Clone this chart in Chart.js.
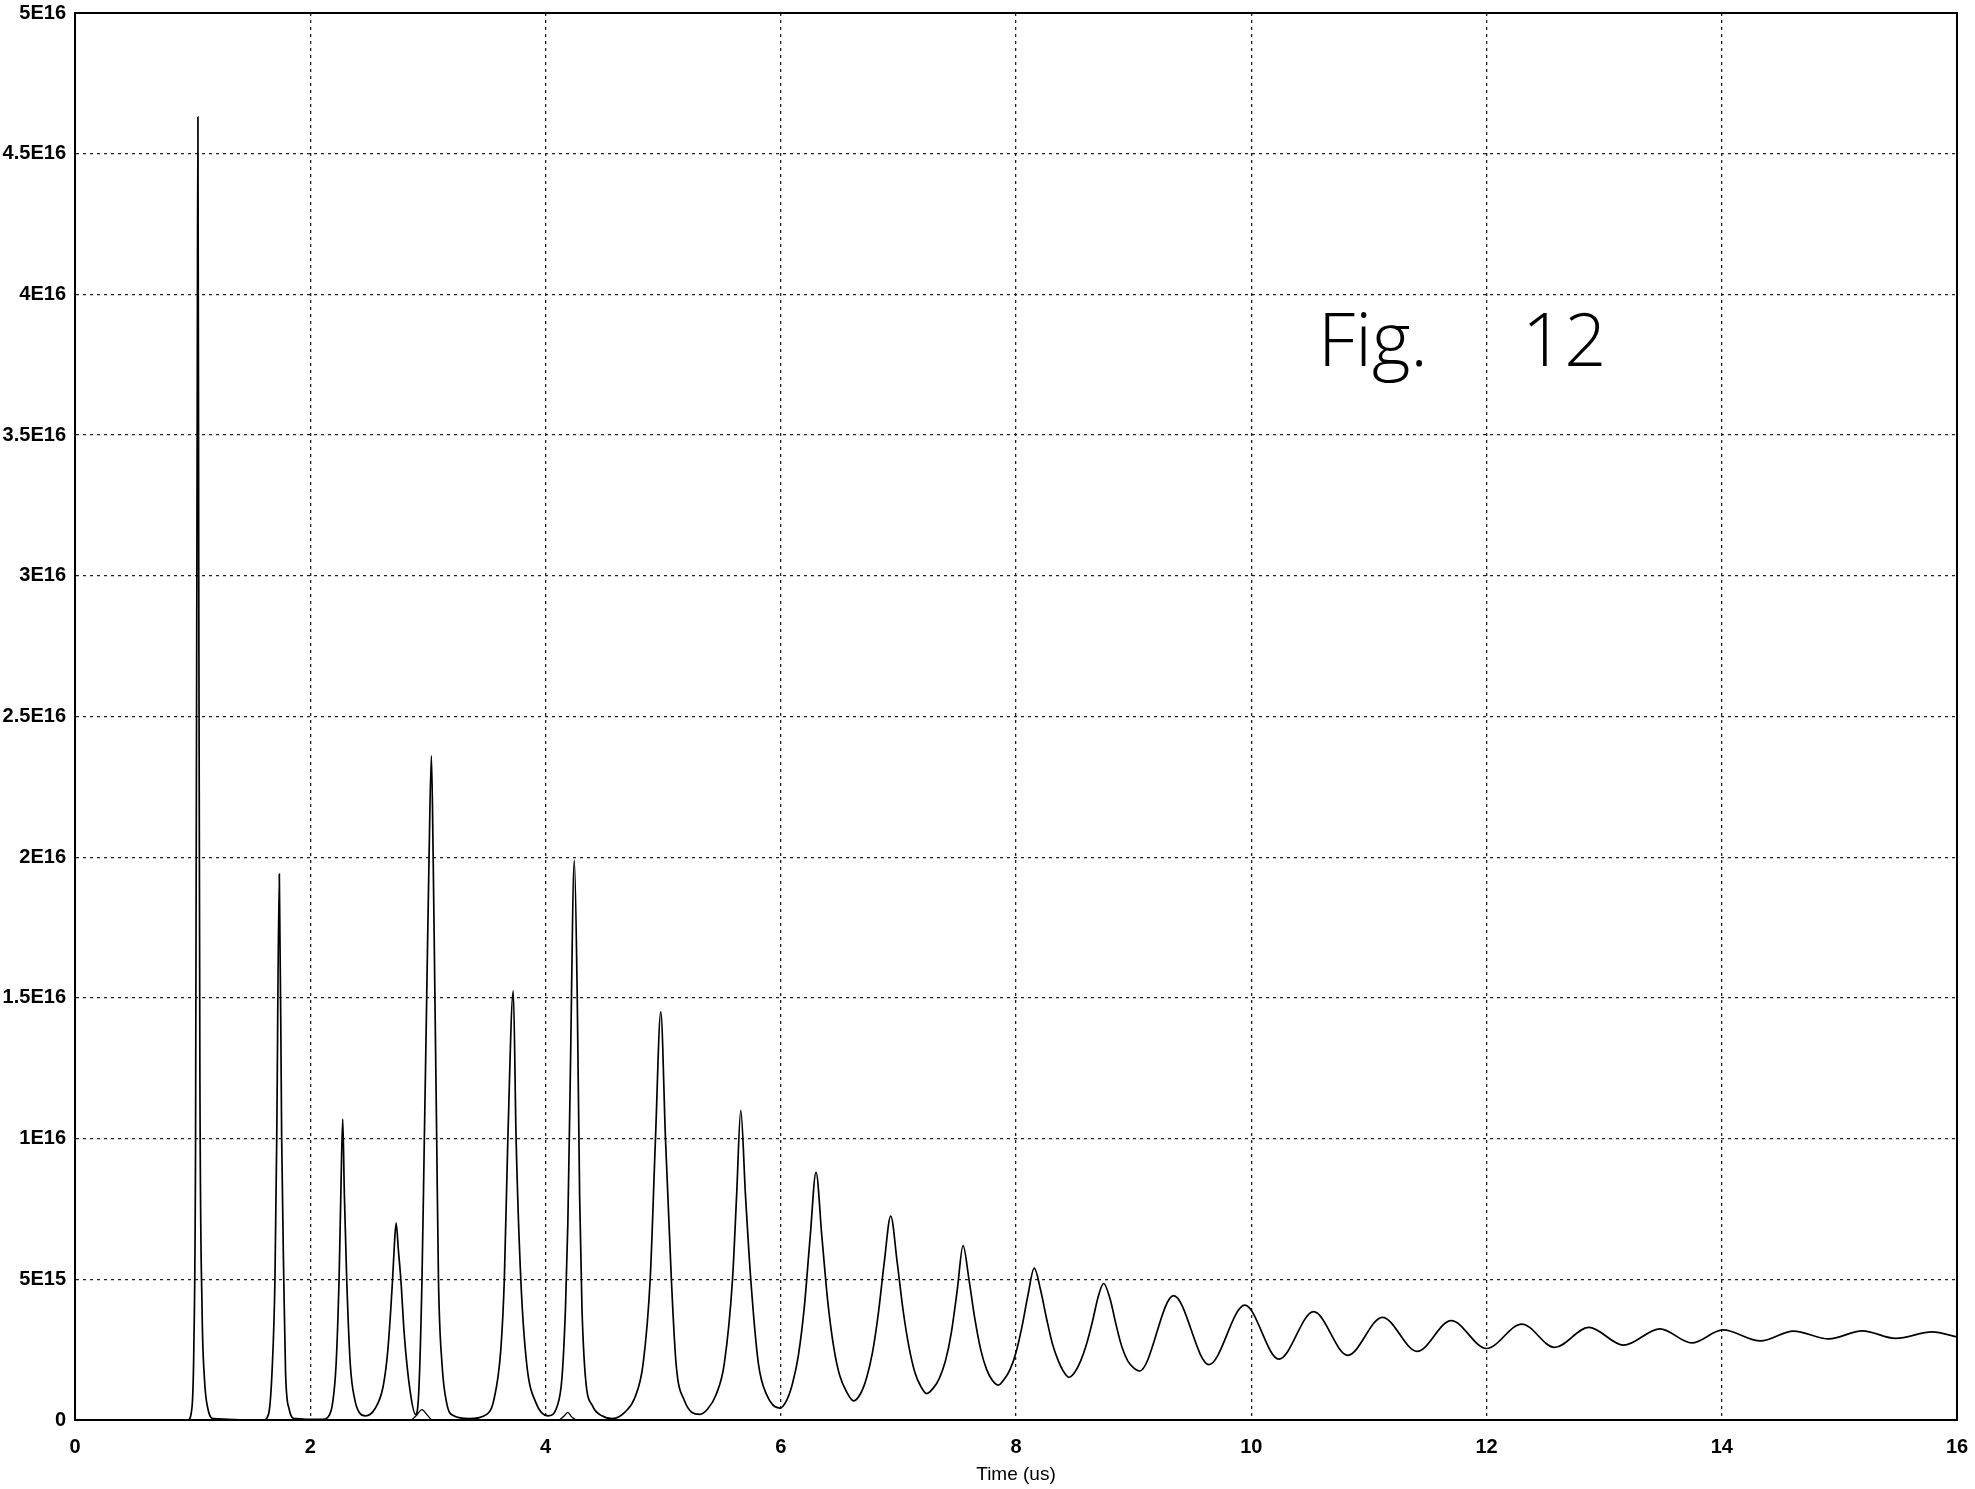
<!DOCTYPE html>
<html>
<head>
<meta charset="utf-8">
<script src="https://cdn.jsdelivr.net/npm/chart.js@4.4.1/dist/chart.umd.min.js"></script>
<style>
  html, body { margin: 0; padding: 0; background: #fff; }
  canvas { display: block; }
</style>
</head>
<body>
<canvas id="c" width="1975" height="1489" style="width:1975px;height:1489px"></canvas>
<script>
// ---- Data (time in us, values in absolute units) ----
const times = [
  0, 0.96, 0.99, 1.01, 1.025, 1.04, 1.045, 1.052, 1.062, 1.08, 1.10, 1.13, 1.18,
  1.60, 1.645, 1.675, 1.70, 1.715, 1.737, 1.757, 1.775, 1.79, 1.82, 1.87,
  2.10, 2.15, 2.19, 2.22, 2.245, 2.26, 2.276, 2.29, 2.31, 2.34, 2.38, 2.42, 2.47,
  2.55, 2.62, 2.66, 2.70, 2.715, 2.73, 2.75, 2.77, 2.80, 2.85, 2.895,
  2.92, 2.95, 2.97, 2.99, 3.01, 3.03, 3.045, 3.06, 3.075, 3.09, 3.12, 3.16, 3.22, 3.35,
  3.50, 3.56, 3.62, 3.65, 3.68, 3.726, 3.75, 3.79, 3.84, 3.92, 4.02,
  4.10, 4.14, 4.17, 4.19, 4.21, 4.245, 4.27, 4.29, 4.31, 4.34, 4.40, 4.48, 4.57,
  4.68, 4.76, 4.83, 4.89, 4.935, 4.98, 5.02, 5.07, 5.11, 5.18, 5.31,
  5.38, 5.45, 5.52, 5.59, 5.625, 5.66, 5.70, 5.745, 5.81, 5.88, 5.99,
  6.05, 6.10, 6.15, 6.20, 6.25, 6.30, 6.35, 6.40, 6.45, 6.50, 6.56, 6.62,
  6.68, 6.73, 6.78, 6.83, 6.88, 6.935, 6.99, 7.04, 7.09, 7.14, 7.19, 7.24,
  7.30, 7.35, 7.40, 7.45, 7.50, 7.55, 7.60, 7.65, 7.70, 7.75, 7.80, 7.85,
  7.90, 7.95, 8.00, 8.05, 8.10, 8.155, 8.21, 8.26, 8.31, 8.36, 8.40, 8.45,
  8.50, 8.55, 8.60, 8.65, 8.70, 8.745, 8.80, 8.85, 8.90, 8.95, 9.00, 9.05,
  9.34, 9.64, 9.945, 10.235, 10.53, 10.82, 11.115, 11.41,
  11.70, 12.00, 12.30, 12.58, 12.87, 13.165, 13.475, 13.745, 14.01, 14.33,
  14.61, 14.91, 15.195, 15.48, 15.79, 16.0
];
const density = [
  0, 0, 0.3e15, 2.5e15, 10e15, 38e15, 46.3e15, 30e15, 12e15, 4e15, 1.5e15, 0.4e15, 0.05e15,
  0, 0.2e15, 1.7e15, 5e15, 10e15, 19.4e15, 10e15, 5e15, 1.7e15, 0.4e15, 0.05e15,
  0.02e15, 0.1e15, 0.6e15, 2e15, 5e15, 8e15, 10.7e15, 8e15, 5e15, 2e15, 0.7e15, 0.25e15, 0.15e15,
  0.4e15, 1.2e15, 2.5e15, 5e15, 6.2e15, 7.0e15, 6.0e15, 5e15, 3e15, 1.0e15, 0.2e15,
  0.8e15, 5e15, 10e15, 15e15, 20e15, 23.6e15, 20e15, 15e15, 10e15, 5e15, 2e15, 0.6e15, 0.15e15, 0.05e15,
  0.2e15, 0.7e15, 2.5e15, 5e15, 10e15, 15.25e15, 10e15, 5e15, 2e15, 0.6e15, 0.15e15,
  0.5e15, 1.5e15, 4e15, 7e15, 12e15, 19.9e15, 15e15, 8e15, 4e15, 1.5e15, 0.5e15, 0.15e15, 0.05e15,
  0.3e15, 0.8e15, 2e15, 5e15, 10e15, 14.5e15, 10e15, 5e15, 2e15, 0.7e15, 0.2e15,
  0.4e15, 0.9e15, 2e15, 5e15, 8e15, 11.0e15, 8e15, 5e15, 2e15, 0.9e15, 0.42e15,
  0.7e15, 1.3e15, 2.3e15, 4.0e15, 6.5e15, 8.8e15, 6.5e15, 4.2e15, 2.6e15, 1.6e15, 1.0e15, 0.68e15,
  0.95e15, 1.5e15, 2.4e15, 3.8e15, 5.6e15, 7.25e15, 5.6e15, 3.9e15, 2.6e15, 1.7e15, 1.2e15, 0.94e15,
  1.15e15, 1.5e15, 2.1e15, 3.1e15, 4.6e15, 6.2e15, 5.0e15, 3.6e15, 2.5e15, 1.8e15, 1.4e15, 1.24e15,
  1.45e15, 1.8e15, 2.4e15, 3.3e15, 4.4e15, 5.4e15, 4.6e15, 3.6e15, 2.7e15, 2.1e15, 1.75e15, 1.52e15,
  1.7e15, 2.1e15, 2.7e15, 3.5e15, 4.4e15, 4.85e15, 4.3e15, 3.4e15, 2.6e15, 2.1e15, 1.85e15, 1.74e15,
  4.42e15, 1.97e15, 4.08e15, 2.16e15, 3.85e15, 2.30e15, 3.65e15, 2.44e15,
  3.53e15, 2.54e15, 3.41e15, 2.58e15, 3.29e15, 2.66e15, 3.24e15, 2.74e15, 3.2e15, 2.81e15,
  3.16e15, 2.88e15, 3.17e15, 2.9e15, 3.13e15, 2.95e15
];
// second (small) trace: two small humps near the base
const humpTimes  = [2.86, 2.90, 2.95, 2.99, 3.03, 3.5, 4.12, 4.16, 4.19, 4.22, 4.26];
const humpValues = [0, 0.15e15, 0.37e15, 0.2e15, 0, null, 0, 0.15e15, 0.27e15, 0.12e15, 0];

const xTicks = [0, 2, 4, 6, 8, 10, 12, 14, 16];
const xTickLabels = ['0', '2', '4', '6', '8', '10', '12', '14', '16'];
const yTicks = [0, 5e15, 1e16, 1.5e16, 2e16, 2.5e16, 3e16, 3.5e16, 4e16, 4.5e16, 5e16];
const yTickLabels = ['0', '5E15', '1E16', '1.5E16', '2E16', '2.5E16', '3E16', '3.5E16', '4E16', '4.5E16', '5E16'];
const xTitle = 'Time (us)';
const noteParts = ['Fig.', '12'];

// ---- Build chart ----
const mainPts = times.map((t, i) => ({ x: t, y: density[i] }));
const humpPts = humpTimes.map((t, i) => ({ x: t, y: humpValues[i] }));

Chart.defaults.font.family = '"Liberation Sans", Arial, sans-serif';
Chart.defaults.color = '#000';

const framePlugin = {
  id: 'frame',
  afterDraw(chart) {
    const { ctx, chartArea: a } = chart;
    ctx.save();
    ctx.strokeStyle = '#000';
    ctx.lineWidth = 2;
    ctx.strokeRect(a.left, a.top, a.right - a.left, a.bottom - a.top);
    // handwritten-style note
    ctx.fillStyle = '#000';
    ctx.font = '300 74px "Open Sans", "DejaVu Sans", sans-serif';
    ctx.textBaseline = 'alphabetic';
    ctx.fillText(noteParts[0], 1318, 366);
    ctx.fillText(noteParts[1], 1522, 366);
    ctx.restore();
  }
};

const gridStyle = { color: '#222', lineWidth: 1.3, drawTicks: false };
const tickFont = { size: 20, weight: 'bold' };

new Chart(document.getElementById('c'), {
  type: 'line',
  data: {
    datasets: [
      {
        data: mainPts, borderColor: '#000', borderWidth: 1.7, pointRadius: 0,
        cubicInterpolationMode: 'monotone', fill: false
      },
      {
        data: humpPts, borderColor: '#000', borderWidth: 1.3, pointRadius: 0,
        cubicInterpolationMode: 'monotone', fill: false, spanGaps: false
      }
    ]
  },
  options: {
    responsive: false,
    animation: false,
    events: [],
    layout: { padding: { top: 13, right: 18, left: 0, bottom: 0 } },
    plugins: { legend: { display: false }, tooltip: { enabled: false } },
    scales: {
      x: {
        type: 'linear', min: 0, max: 16,
        afterBuildTicks(s) { s.ticks = xTicks.map(v => ({ value: v })); },
        ticks: {
          font: tickFont, padding: 15, maxRotation: 0, autoSkip: false,
          callback: (v, i) => xTickLabels[i]
        },
        grid: gridStyle,
        border: { display: true, color: '#000', width: 2, dash: [3, 4] },
        title: { display: true, text: xTitle, font: { size: 19 }, padding: { top: 0, bottom: 3 } },
        afterFit(s) { s.height = 69; s.paddingLeft = 0; s.paddingRight = 0; }
      },
      y: {
        type: 'linear', min: 0, max: 5e16,
        afterBuildTicks(s) { s.ticks = yTicks.map(v => ({ value: v })); },
        ticks: {
          font: tickFont, padding: 9, autoSkip: false,
          callback: (v, i) => yTickLabels[i]
        },
        grid: gridStyle,
        border: { display: true, color: '#000', width: 2, dash: [3, 4] },
        afterFit(s) { s.width = 75; s.paddingTop = 0; s.paddingBottom = 0; }
      }
    }
  },
  plugins: [framePlugin]
});
</script>
</body>
</html>
